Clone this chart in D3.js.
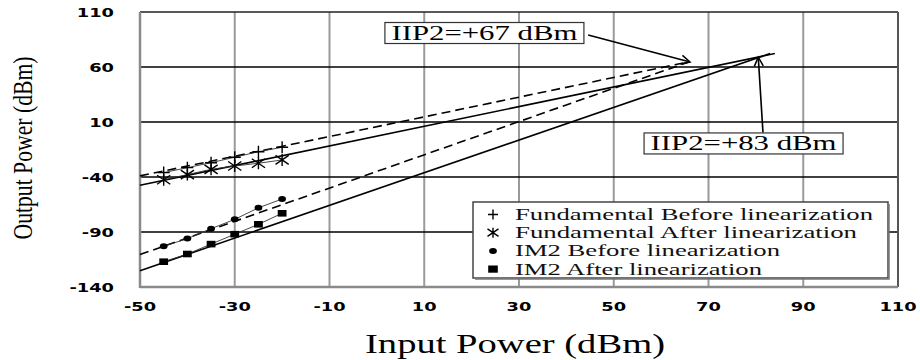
<!DOCTYPE html>
<html>
<head>
<meta charset="utf-8">
<script src="https://cdn.jsdelivr.net/npm/d3@7"></script>
<style>
  body { margin: 0; background: #fff; }
  svg { display: block; }
</style>
</head>
<body>
<div id="chart"></div>
<script>
// measured points (dBm)
const inputPower = [-45, -40, -35, -30, -25, -20];
const fundBefore = [-36, -31.5, -27, -22, -17, -13];
const fundAfter = [-42.5, -37.8, -33, -30, -27.5, -24.5];
const im2Before = [-103, -96, -87, -78.5, -68, -60];
const im2After = [-117, -110, -101, -92, -83, -73];

// extrapolated lines: [x0, x1], [y0, y1]
const fitX = { fundBefore: [-50, 66], fundAfter: [-50, 84], im2Before: [-50, 66], im2After: [-50, 83] };
const fitY = { fundBefore: [-39, 64.8], fundAfter: [-47.5, 72.2], im2Before: [-110.5, 64.8], im2After: [-125.2, 72.3] };

const xTicks = [-50, -30, -10, 10, 30, 50, 70, 90, 110];
const yTicks = [-140, -90, -40, 10, 60, 110];

const legendLabels = [
  'Fundamental  Before linearization',
  'Fundamental  After linearization',
  'IM2  Before linearization',
  'IM2  After linearization'
];

const width = 920;
const height = 360;
const serif = '"Liberation Serif", "Times New Roman", serif';
const sans = '"DejaVu Sans", Verdana, sans-serif';

const svg = d3.select('#chart')
  .append('svg')
    .attr('width', width)
    .attr('height', height);

svg.append('rect').attr('width', width).attr('height', height).attr('fill', '#fff');

const x = d3.scaleLinear().domain([-50, 110]).range([140, 898]);
const y = d3.scaleLinear().domain([-140, 110]).range([287, 12]);

// stretch text horizontally like the original (its picture is widened)
function stretch(sel, k) {
  sel.each(function () {
    const w = this.getComputedTextLength();
    d3.select(this).attr('textLength', w * k).attr('lengthAdjust', 'spacingAndGlyphs');
  });
}

// grid
svg.append('g')
  .selectAll('line')
  .data(xTicks.slice(1, -1))
  .join('line')
    .attr('x1', d => x(d)).attr('x2', d => x(d))
    .attr('y1', y(110)).attr('y2', y(-140))
    .attr('stroke', '#9a9a9a')
    .attr('stroke-width', 2);

svg.append('g')
  .selectAll('line')
  .data(yTicks.slice(1, -1))
  .join('line')
    .attr('x1', x(-50)).attr('x2', x(110))
    .attr('y1', d => y(d)).attr('y2', d => y(d))
    .attr('stroke', '#000')
    .attr('stroke-width', 1.3);

// frame
svg.append('line').attr('x1', x(-50)).attr('x2', x(110)).attr('y1', y(110)).attr('y2', y(110))
  .attr('stroke', '#222').attr('stroke-width', 1.5);
svg.append('line').attr('x1', x(110)).attr('x2', x(110)).attr('y1', y(110)).attr('y2', y(-140))
  .attr('stroke', '#555').attr('stroke-width', 2);
svg.append('line').attr('x1', x(-50)).attr('x2', x(-50)).attr('y1', y(110)).attr('y2', y(-140) + 1)
  .attr('stroke', '#8a8a8a').attr('stroke-width', 2.5);
svg.append('line').attr('x1', x(-50)).attr('x2', x(110)).attr('y1', y(-140)).attr('y2', y(-140))
  .attr('stroke', '#8a8a8a').attr('stroke-width', 2.5);

// tick labels
svg.append('g')
  .selectAll('text')
  .data(xTicks)
  .join('text')
    .attr('x', d => x(d))
    .attr('y', y(-140) + 24)
    .attr('text-anchor', 'middle')
    .attr('font-family', sans)
    .attr('font-weight', 'bold')
    .attr('font-size', 13)
    .text(d => d)
    .call(stretch, 1.37);

svg.append('g')
  .selectAll('text')
  .data(yTicks)
  .join('text')
    .attr('x', x(-50) - 26)
    .attr('y', d => y(d) + 5)
    .attr('text-anchor', 'end')
    .attr('font-family', sans)
    .attr('font-weight', 'bold')
    .attr('font-size', 13)
    .text(d => d)
    .call(stretch, 1.37);

// axis titles
svg.append('text')
  .attr('x', 515)
  .attr('y', 353)
  .attr('text-anchor', 'middle')
  .attr('font-family', serif)
  .attr('font-size', 28)
  .attr('textLength', 300)
  .attr('lengthAdjust', 'spacingAndGlyphs')
  .text('Input Power (dBm)');

svg.append('text')
  .attr('transform', 'translate(32,148) rotate(-90)')
  .attr('text-anchor', 'middle')
  .attr('font-family', serif)
  .attr('font-size', 28)
  .attr('textLength', 183)
  .attr('lengthAdjust', 'spacingAndGlyphs')
  .text('Output Power (dBm)');

// extrapolation lines
const fits = [
  { key: 'fundBefore', dash: '9,5' },
  { key: 'fundAfter', dash: null },
  { key: 'im2Before', dash: '9,5' },
  { key: 'im2After', dash: null }
];
svg.append('g')
  .selectAll('line')
  .data(fits)
  .join('line')
    .attr('x1', d => x(fitX[d.key][0])).attr('x2', d => x(fitX[d.key][1]))
    .attr('y1', d => y(fitY[d.key][0])).attr('y2', d => y(fitY[d.key][1]))
    .attr('stroke', '#000')
    .attr('stroke-width', 1.6)
    .attr('stroke-dasharray', d => d.dash);

// marker shapes
function drawMarker(g, kind, s) {
  if (kind === 'plus') {
    g.append('path').attr('d', `M${-s},0H${s}M0,${-s}V${s}`)
      .attr('stroke', '#000').attr('stroke-width', 1.4).attr('fill', 'none');
  } else if (kind === 'star') {
    const a = s * 1.1, b = s * 0.75;
    g.append('path').attr('d', `M0,${-s}V${s}M${-a},${-b}L${a},${b}M${-a},${b}L${a},${-b}`)
      .attr('stroke', '#000').attr('stroke-width', 1.4).attr('fill', 'none');
  } else if (kind === 'dot') {
    g.append('ellipse').attr('rx', s * 0.65).attr('ry', s * 0.5).attr('fill', '#000');
  } else {
    g.append('rect').attr('x', -s * 0.8).attr('y', -s * 0.6)
      .attr('width', s * 1.6).attr('height', s * 1.2).attr('fill', '#000');
  }
}

const series = [
  { values: fundBefore, kind: 'plus', size: 6 },
  { values: fundAfter, kind: 'star', size: 6 },
  { values: im2Before, kind: 'dot', size: 6 },
  { values: im2After, kind: 'square', size: 5.5 }
];

const line = d3.line().x(d => x(d[0])).y(d => y(d[1]));

series.forEach(s => {
  const pts = inputPower.map((p, i) => [p, s.values[i]]);
  svg.append('path')
    .attr('d', line(pts))
    .attr('fill', 'none')
    .attr('stroke', '#333')
    .attr('stroke-width', 0.9);
  svg.append('g')
    .selectAll('g')
    .data(pts)
    .join('g')
      .attr('transform', d => `translate(${x(d[0])},${y(d[1])})`)
      .each(function () { drawMarker(d3.select(this), s.kind, s.size); });
});

// annotations
const defs = svg.append('defs');
defs.append('marker')
  .attr('id', 'arrow')
  .attr('viewBox', '-10 -6 12 12')
  .attr('refX', 0).attr('refY', 0)
  .attr('markerWidth', 12).attr('markerHeight', 12)
  .attr('markerUnits', 'userSpaceOnUse')
  .attr('orient', 'auto')
  .append('path')
    .attr('d', 'M-9,-4.5L0,0L-9,4.5')
    .attr('fill', 'none')
    .attr('stroke', '#000')
    .attr('stroke-width', 1.5);

const notes = [
  { text: 'IIP2=+67 dBm', at: [22.7, 90.9], from: [44.6, 89.1], to: [66.1, 64.5] },
  { text: 'IIP2=+83 dBm', at: [77.4, -9.5], from: [81.5, 0.3], to: [80.5, 69] }
];

notes.forEach(n => {
  svg.append('line')
    .attr('x1', x(n.from[0])).attr('y1', y(n.from[1]))
    .attr('x2', x(n.to[0])).attr('y2', y(n.to[1]))
    .attr('stroke', '#000')
    .attr('stroke-width', 1.6)
    .attr('marker-end', 'url(#arrow)');
  const cx = x(n.at[0]), cy = y(n.at[1]);
  svg.append('rect')
    .attr('x', cx - 99.5).attr('y', cy - 10.5)
    .attr('width', 199).attr('height', 21)
    .attr('fill', '#fff')
    .attr('stroke', '#333')
    .attr('stroke-width', 1.2);
  svg.append('text')
    .attr('x', cx).attr('y', cy + 6.5)
    .attr('text-anchor', 'middle')
    .attr('font-family', serif)
    .attr('font-size', 20)
    .attr('textLength', 186)
    .attr('lengthAdjust', 'spacingAndGlyphs')
    .text(n.text);
});

// legend
const legendWidths = [358, 342, 265, 247];
const legend = svg.append('g').attr('transform', 'translate(473,202)');
legend.append('rect')
  .attr('width', 415).attr('height', 76)
  .attr('fill', '#fff')
  .attr('stroke', '#444')
  .attr('stroke-width', 1.5);
legend.append('path')
  .attr('d', 'M416,2V77H2')
  .attr('fill', 'none')
  .attr('stroke', '#777')
  .attr('stroke-width', 1.5);

legendLabels.forEach((label, i) => {
  const row = legend.append('g').attr('transform', `translate(20,${12.5 + i * 18.2})`);
  drawMarker(row.append('g'), series[i].kind, i < 2 ? 5 : 6);
  row.append('text')
    .attr('x', 22)
    .attr('y', 5.5)
    .attr('font-family', serif)
    .attr('font-size', 16)
    .attr('fill', '#111')
    .attr('textLength', legendWidths[i])
    .attr('lengthAdjust', 'spacingAndGlyphs')
    .text(label);
});
</script>
</body>
</html>
